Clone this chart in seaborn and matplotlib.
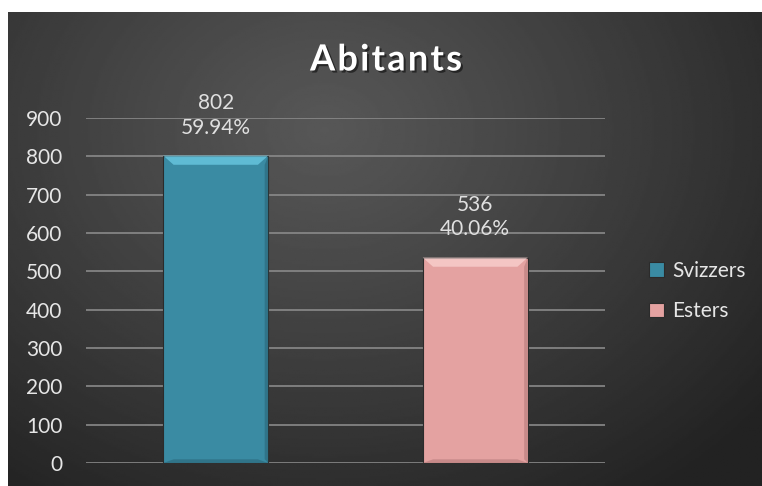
import numpy as np
import matplotlib
matplotlib.use("Agg")
import matplotlib.pyplot as plt
import matplotlib.patheffects as pe
from matplotlib.patches import Polygon
import seaborn as sns

# données
categories = ["Svizzers", "Esters"]
abitants = [802, 536]
pourcentages = ["59.94%", "40.06%"]
y_ticks = [0, 100, 200, 300, 400, 500, 600, 700, 800, 900]
couleurs = ["#3a8ba3", "#e4a2a1"]
reflets = ["#6fd0ea", "#fbd6d4"]
ombres = ["#2a6678", "#b57a7a"]

sns.set_theme(style="white")
plt.rcParams["font.family"] = ["Lato", "DejaVu Sans"]

W, H = 762, 486
fig = plt.figure(figsize=(W / 100, H / 100), dpi=100, facecolor="white")

# fond dégradé sombre
bg = fig.add_axes([8 / W, 0, 1 - 8 / W, 1 - 12 / H], zorder=-5)
xx, yy = np.meshgrid(np.linspace(0, 1, 400), np.linspace(0, 1, 260))
r = np.sqrt(((xx - 0.42) / 0.75) ** 2 + ((yy - 0.25) / 0.95) ** 2)
val = 0x57 - (0x57 - 0x22) * np.clip(r, 0, 1) ** 1.1
bg.imshow(val, cmap="gray", vmin=0, vmax=255, aspect="auto", extent=[0, 1, 1, 0])
bg.set_axis_off()

ax = fig.add_axes([86 / W, (H - 463) / H, (605 - 86) / W, (463 - 118) / H])
ax.set_facecolor("none")

sns.barplot(x=categories, y=abitants, hue=categories, palette=couleurs,
            width=0.405, ax=ax, legend=True, saturation=1,
            edgecolor="#2b2b2b", linewidth=0.8, zorder=3)

ax.set_ylim(0, 900)
ax.set_yticks(y_ticks)
ax.yaxis.grid(True, color="#8a8a8a", linewidth=1.2, zorder=0)
ax.set_axisbelow(True)
ax.set_xticks([])
ax.set_xlabel("")
ax.set_ylabel("")
for s in ax.spines.values():
    s.set_visible(False)
ax.tick_params(axis="y", length=0, pad=17, labelsize=15, labelcolor="#e6e6e6")

# effet biseauté sur les barres
for i, bar in enumerate(ax.patches[:len(categories)]):
    x0, w, h = bar.get_x(), bar.get_width(), bar.get_height()
    dx, dy = 0.04, 24
    top = Polygon([(x0, h), (x0 + w, h), (x0 + w - dx, h - dy), (x0 + dx, h - dy)],
                  closed=True, facecolor=reflets[i], edgecolor="none", alpha=0.7, zorder=4)
    bas = Polygon([(x0, 0), (x0 + w, 0), (x0 + w - dx, dy * 0.4), (x0 + dx, dy * 0.4)],
                  closed=True, facecolor=ombres[i], edgecolor="none", alpha=0.6, zorder=4)
    droite = Polygon([(x0 + w, 0), (x0 + w, h), (x0 + w - dx * 0.35, h - dy), (x0 + w - dx * 0.35, dy * 0.4)],
                     closed=True, facecolor=ombres[i], edgecolor="none", alpha=0.6, zorder=4)
    ax.add_patch(top)
    ax.add_patch(bas)
    ax.add_patch(droite)

# étiquettes de valeurs
for i, (v, p) in enumerate(zip(abitants, pourcentages)):
    ax.annotate(f"{v}\n{p}", xy=(i, v), xytext=(0, 13), textcoords="offset points",
                ha="center", va="bottom", fontsize=15, color="#e0e0e0",
                linespacing=1.3, annotation_clip=False, zorder=5)

# légende
handles, labels = ax.get_legend_handles_labels()
leg = ax.legend(handles, labels, loc="center left", bbox_to_anchor=(639 / W, 1 - 291 / H),
                bbox_transform=fig.transFigure, frameon=False, fontsize=15,
                handlelength=0.7, handleheight=0.7, handletextpad=0.4,
                labelspacing=1.0, borderpad=0)
for t in leg.get_texts():
    t.set_color("#e6e6e6")

fig.text(386 / W, 1 - 60 / H, "\u200a".join("Abitants"), ha="center", va="center", fontsize=26,
         fontweight="bold", color="white",
         path_effects=[pe.withSimplePatchShadow(offset=(1.5, -1.5), shadow_rgbFace="black", alpha=0.5)])

fig.savefig("out.png", dpi=100)
